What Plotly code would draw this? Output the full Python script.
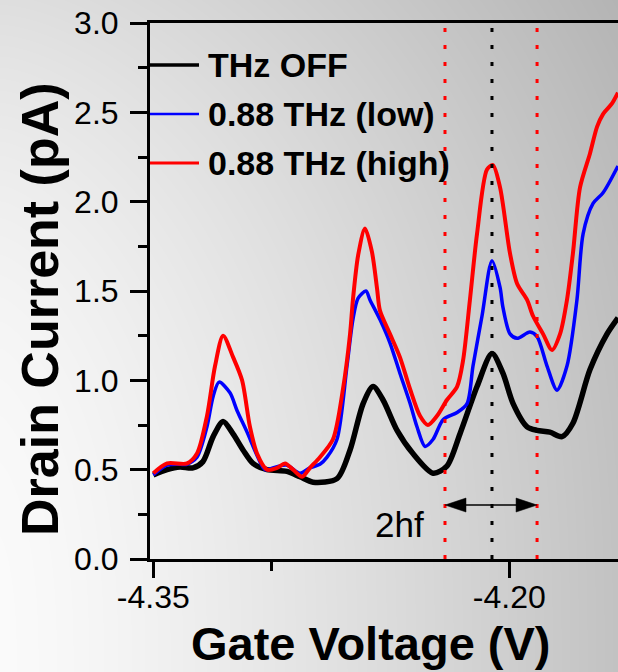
import zlib, struct, base64
import plotly.graph_objects as go

# ---------------- data ----------------
x_off = [-4.3500, -4.3442, -4.3388, -4.3333, -4.3291, -4.3248, -4.3206, -4.3164, -4.3122,
         -4.3080, -4.3021, -4.2937, -4.2882, -4.2827, -4.2726, -4.2671, -4.2616, -4.2574,
         -4.2532, -4.2473, -4.2406, -4.2321, -4.2263, -4.2208, -4.2136, -4.2073, -4.2027,
         -4.1984, -4.1925, -4.1883, -4.1829, -4.1778, -4.1732, -4.1660, -4.1588, -4.1542]
i_off = [0.47, 0.50, 0.515, 0.51, 0.545, 0.685, 0.77, 0.70, 0.61,
         0.535, 0.50, 0.49, 0.46, 0.43, 0.45, 0.61, 0.87, 0.965,
         0.89, 0.72, 0.59, 0.48, 0.52, 0.70, 0.965, 1.15, 1.04,
         0.87, 0.74, 0.72, 0.71, 0.685, 0.76, 1.06, 1.26, 1.35]

x_low = [-4.3500, -4.3442, -4.3388, -4.3358, -4.3316, -4.3274, -4.3248, -4.3223, -4.3177,
         -4.3147, -4.3105, -4.3063, -4.3029, -4.2979, -4.2937, -4.2882, -4.2840, -4.2798,
         -4.2768, -4.2726, -4.2684, -4.2659, -4.2637, -4.2604, -4.2587, -4.2545, -4.2503,
         -4.2461, -4.2418, -4.2389, -4.2355, -4.2321, -4.2279, -4.2220, -4.2178, -4.2153,
         -4.2115, -4.2073, -4.2039, -4.2027, -4.1997, -4.1967, -4.1913, -4.1883, -4.1841,
         -4.1799, -4.1757, -4.1715, -4.1689, -4.1647, -4.1605, -4.1542]
i_low = [0.47, 0.525, 0.53, 0.53, 0.57, 0.74, 0.91, 0.99, 0.93,
         0.83, 0.71, 0.58, 0.50, 0.517, 0.525, 0.48, 0.51, 0.53,
         0.57, 0.67, 1.08, 1.34, 1.46, 1.50, 1.45, 1.34, 1.21,
         1.04, 0.87, 0.74, 0.63, 0.67, 0.78, 0.82, 0.87, 1.08,
         1.36, 1.67, 1.52, 1.41, 1.26, 1.235, 1.27, 1.245, 1.08,
         0.945, 1.08, 1.45, 1.82, 1.99, 2.05, 2.20]

x_high = [-4.3500, -4.3442, -4.3358, -4.3316, -4.3274, -4.3240, -4.3206, -4.3164, -4.3126,
          -4.3093, -4.3063, -4.3021, -4.2979, -4.2945, -4.2911, -4.2873, -4.2840, -4.2798,
          -4.2743, -4.2701, -4.2671, -4.2659, -4.2637, -4.2608, -4.2579, -4.2557, -4.2545,
          -4.2503, -4.2461, -4.2418, -4.2376, -4.2343, -4.2305, -4.2263, -4.2220, -4.2195,
          -4.2166, -4.2136, -4.2094, -4.2069, -4.2039, -4.1997, -4.1967, -4.1925, -4.1900,
          -4.1858, -4.1820, -4.1786, -4.1757, -4.1732, -4.1702, -4.1660, -4.1630, -4.1605,
          -4.1567, -4.1542]
i_high = [0.48, 0.535, 0.535, 0.59, 0.80, 1.08, 1.25, 1.13, 1.00,
          0.74, 0.59, 0.50, 0.51, 0.535, 0.50, 0.46, 0.51, 0.57,
          0.67, 0.95, 1.26, 1.45, 1.70, 1.85, 1.72, 1.51, 1.39,
          1.26, 1.13, 0.95, 0.80, 0.75, 0.80, 0.89, 0.965, 1.11,
          1.45, 1.82, 2.18, 2.205, 2.08, 1.71, 1.54, 1.45, 1.36,
          1.26, 1.17, 1.26, 1.45, 1.71, 2.08, 2.27, 2.42, 2.49,
          2.55, 2.61]

series_names = ["THz OFF", "0.88 THz (low)", "0.88 THz (high)"]
series_colors = ["#000000", "#0000ff", "#ff0000"]
series_widths = [5.5, 3.5, 4]

x_ticks = [-4.35, -4.20]
x_tick_text = ["-4.35", "-4.20"]
x_minor_ticks = [-4.30]

peak_center = -4.2073            # black dotted line
hf_lines = [-4.2271, -4.1883]    # red dotted lines (2hf apart)
arrow_level = 0.302
label_2hf = "2hf"

# ---------------- geometry helpers ----------------
W, H = 618, 672
L, R, T, B = 150, 0, 23, 113
pw, ph = W - L - R, H - T - B
x_range = [-4.3514, -4.1542]
y_range = [0, 3]


def px_x(p):  # page pixel -> paper x
    return (p - L) / pw


def px_y(p):  # page pixel -> paper y
    return (H - B - p) / ph


# ---------------- gradient background ----------------
def make_png(w, h):
    rows = []
    for y in range(h):
        v = y / (h - 1)
        row = bytearray(w)
        for x in range(w):
            u = x / (w - 1)
            val = 250 - 56 * u ** 1.3 - 28 * (1 - v) ** 2.5 * (1 - 0.5 * u)
            row[x] = max(0, min(255, int(round(val))))
        rows.append(b"\x00" + bytes(row))
    raw = b"".join(rows)

    def chunk(t, d):
        c = struct.pack(">I", len(d)) + t + d
        return c + struct.pack(">I", zlib.crc32(t + d) & 0xFFFFFFFF)

    png = (b"\x89PNG\r\n\x1a\n"
           + chunk(b"IHDR", struct.pack(">IIBBBBB", w, h, 8, 0, 0, 0, 0))
           + chunk(b"IDAT", zlib.compress(raw, 9))
           + chunk(b"IEND", b""))
    return "data:image/png;base64," + base64.b64encode(png).decode()


bg = make_png(W, H)

FONT = "Liberation Sans, Arial, Helvetica, sans-serif"

fig = go.Figure()
for xs, ys, name, col, lw in zip([x_off, x_low, x_high], [i_off, i_low, i_high],
                                 series_names, series_colors, series_widths):
    fig.add_trace(go.Scatter(x=xs, y=ys, mode="lines", name=name,
                             line=dict(color=col, width=lw, shape="spline", smoothing=0.8),
                             showlegend=False))

shapes = []
annotations = []

# dotted guide lines
for xv, col in [(hf_lines[0], "#ff0000"), (peak_center, "#000000"), (hf_lines[1], "#ff0000")]:
    shapes.append(dict(type="line", xref="x", yref="y", x0=xv, x1=xv, y0=y_range[0], y1=y_range[1],
                       line=dict(color=col, width=3, dash="4px,13px"), layer="above"))

# double arrow between the red lines
ax_len = 21 / (pw / (x_range[1] - x_range[0]))
ah = 7 / (ph / (y_range[1] - y_range[0]))
shapes.append(dict(type="line", xref="x", yref="y", x0=hf_lines[0] + ax_len * 0.5, x1=hf_lines[1] - ax_len * 0.5,
                   y0=arrow_level, y1=arrow_level, line=dict(color="black", width=1.5)))
for tip, d in [(hf_lines[0], 1), (hf_lines[1], -1)]:
    p = (f"M {tip} {arrow_level} L {tip + d * ax_len} {arrow_level + ah} "
         f"L {tip + d * ax_len} {arrow_level - ah} Z")
    shapes.append(dict(type="path", xref="x", yref="y", path=p, fillcolor="black",
                       line=dict(color="black", width=0.5)))

annotations.append(dict(x=px_x(399), y=px_y(524), xref="paper", yref="paper", text=label_2hf,
                        showarrow=False, xanchor="center", yanchor="middle",
                        font=dict(family=FONT, size=35, color="black")))

# manual legend
leg_rows = [65, 114, 163]
leg_widths = [3.5, 2.6, 3]
for name, col, row, lw in zip(series_names, series_colors, leg_rows, leg_widths):
    shapes.append(dict(type="line", xref="paper", yref="paper", x0=px_x(150), x1=px_x(199),
                       y0=px_y(row), y1=px_y(row), line=dict(color=col, width=lw)))
    annotations.append(dict(x=px_x(206), y=px_y(row), xref="paper", yref="paper", text=f"<b>{name}</b>",
                            showarrow=False, xanchor="left", yanchor="middle",
                            font=dict(family=FONT, size=34, color="black")))

# axis titles
annotations.append(dict(x=px_x(371), y=px_y(643), xref="paper", yref="paper",
                        text="<b>Gate Voltage (V)</b>", showarrow=False,
                        xanchor="center", yanchor="middle",
                        font=dict(family=FONT, size=47, color="black")))
annotations.append(dict(x=px_x(40), y=px_y(309), xref="paper", yref="paper",
                        text="<b>Drain Current (pA)</b>", showarrow=False, textangle=-90,
                        xanchor="center", yanchor="middle",
                        font=dict(family=FONT, size=52, color="black")))

fig.update_layout(
    width=W, height=H,
    margin=dict(l=L, r=R, t=T, b=B, pad=0),
    paper_bgcolor="rgba(0,0,0,0)",
    plot_bgcolor="rgba(0,0,0,0)",
    showlegend=False,
    shapes=shapes,
    annotations=annotations,
    images=[dict(source=bg, xref="paper", yref="paper", x=px_x(0), y=px_y(0),
                 sizex=W / pw, sizey=H / ph, xanchor="left", yanchor="top",
                 sizing="stretch", layer="below")],
    xaxis=dict(range=x_range, showline=True, linewidth=3, linecolor="black", mirror=True,
               ticks="outside", ticklen=16, tickwidth=3, tickcolor="black",
               tickvals=x_ticks, ticktext=x_tick_text,
               minor=dict(tickvals=x_minor_ticks, ticks="outside", ticklen=9, tickwidth=3,
                          tickcolor="black"),
               showgrid=False, zeroline=False, ticklabelstandoff=-8,
               tickfont=dict(family=FONT, size=32, color="black")),
    yaxis=dict(range=y_range, showline=True, linewidth=3, linecolor="black",
               ticks="outside", ticklen=17, tickwidth=3, tickcolor="black",
               dtick=0.5, tick0=0, tickformat=".1f",
               minor=dict(dtick=0.25, ticks="outside", ticklen=9, tickwidth=3, tickcolor="black"),
               showgrid=False, zeroline=False, ticklabelstandoff=5,
               tickfont=dict(family=FONT, size=32, color="black")),
)

fig.write_html("out.html")
